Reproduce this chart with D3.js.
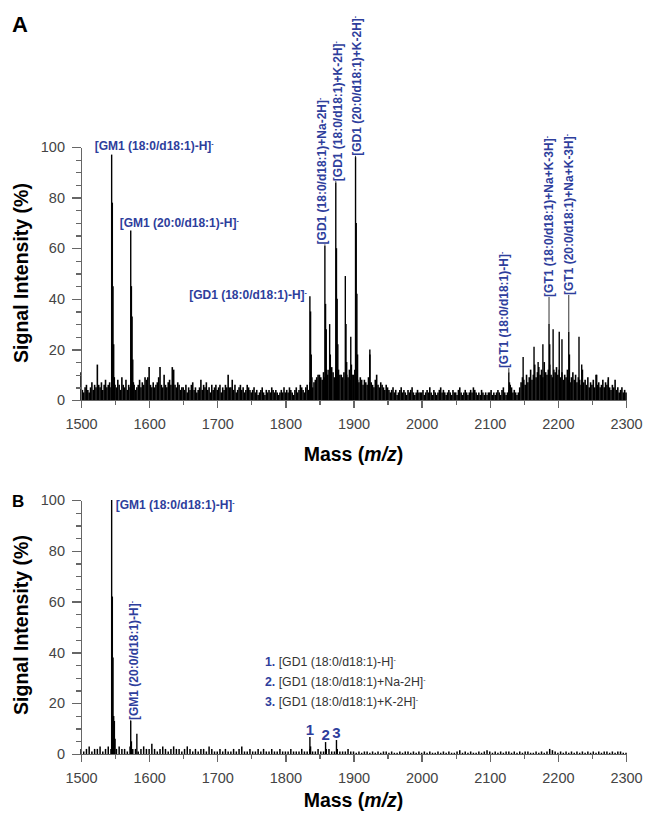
<!DOCTYPE html>
<html lang="en">
<head>
<meta charset="utf-8">
<title>Ganglioside MALDI spectra</title>
<style>
body { margin: 0; background: #fff; }
svg { display: block; font-family: "Liberation Sans", Arial, sans-serif; }
.axis path, .axis line { stroke: #666; stroke-width: 1.3; shape-rendering: crispEdges; }
.axis text { fill: #444; font-size: 14.5px; }
.note { fill: #2e3e9c; font-weight: bold; font-size: 12px; }
.legend { fill: #333; font-size: 12.3px; }
</style>
</head>
<body>
<div id="chart"></div>
<script src="https://cdn.jsdelivr.net/npm/d3@7"></script>
<script>
// tick values
var massTicks = [1500, 1600, 1700, 1800, 1900, 2000, 2100, 2200, 2300];
var massMinor = [1550, 1650, 1750, 1850, 1950, 2050, 2150, 2250];
var intensityTicks = [0, 20, 40, 60, 80, 100];
var intensityMinor = [5, 10, 15, 25, 30, 35, 45, 50, 55, 65, 70, 75, 85, 90, 95];

// panel A: baseline noise, one reading every 2 m/z from 1500
var noiseStartA = 1500, noiseStepA = 2;
var noiseA = [
  11,4,3,5,6, 4,3,5,7,4, 6,5,14,6,5, 7,4,6,8,5, 6,7,5,6,9,
  6,5,8,6,4, 9,6,5,8,4, 6,5,9,7,6, 4,5,6,8,5, 7,6,9,8,9,
  13,6,5,7,5, 6,7,9,13,6, 5,10,6,5,7, 8,6,13,12,6, 5,7,6,4,5,
  5,4,6,3,5, 4,6,7,4,5, 3,4,5,8,4, 6,5,7,4,5, 3,6,4,5,6,
  4,5,6,3,5, 4,6,5,10,5, 5,8,4,6,3, 4,5,6,4,5, 3,4,6,5,4,
  3,4,5,3,4, 2,3,4,5,3, 2,4,3,4,3, 5,4,3,4,3, 2,3,4,3,5,
  3,4,3,5,4, 3,2,4,5,3, 4,6,5,4,3, 5,6,4,7,6, 5,7,8,9,10,
  10,9,8,11,9, 12,10,12,10,13, 11,9,12,11,12, 10,10,9,11,8, 10,9,12,8,10,
  10,12,9,8,7, 9,8,6,8,7, 6,9,18,7,6, 5,8,10,6,5, 7,6,5,4,6,
  5,4,3,4,5, 3,4,2,3,4, 5,3,4,3,2, 4,3,4,5,3, 2,3,4,3,3,
  3,4,2,3,4, 3,5,3,2,4, 3,2,3,4,5, 3,4,3,2,3, 4,3,2,4,3,
  3,2,4,5,3, 2,3,4,3,2, 3,4,3,5,4, 3,2,3,2,4, 3,2,3,2,3,
  3,4,2,3,2, 3,4,3,2,4, 5,3,2,3,4, 6,5,3,4,3, 2,3,5,7,9,
  8,6,10,7,9, 12,8,10,14,9, 11,13,10,12,9, 15,11,10,12,14, 10,9,12,11,13,
  10,12,9,11,8, 10,9,12,8,7, 9,11,8,10,7, 9,8,6,12,7, 8,6,9,5,7,
  6,8,5,10,6, 7,5,6,8,5, 7,6,9,5,4, 6,5,8,4,5, 3,4,5,3,4,
  3
];

// panel A: resolved peaks
var peakMzA = [1545, 1546, 1547, 1548, 1549, 1573, 1574, 1575, 1576, 1577,
  1836, 1837, 1838, 1839, 1858, 1859, 1860, 1861, 1865, 1866,
  1874, 1875, 1876, 1877, 1888, 1889, 1890, 1896, 1897,
  1903, 1904, 1905, 1906, 1924, 2128, 2129, 2149, 2165, 2171, 2178,
  2187, 2188, 2193, 2202, 2206, 2216, 2217, 2231, 2235, 2257, 2274];
var peakIntA = [97, 78, 45, 22, 9, 67, 45, 33, 16, 7,
  41, 35, 18, 9, 61, 38, 28, 12, 30, 18,
  86, 60, 40, 22, 49, 30, 15, 25, 14,
  96, 70, 42, 18, 20, 11, 7, 17, 21, 15, 22,
  30, 22, 28, 27, 24, 27, 18, 25, 14, 10, 8];

// panel B: baseline noise, one reading every 4 m/z from 1500
var noiseStartB = 1500, noiseStepB = 4;
var noiseB = [
  2,1,2,3,1, 2,2,3,1,2, 3,2,1,2,3, 2,2,1,3,2, 2,1,2,3,2,
  2,4,2,1,2, 3,2,1,2,3, 2,2,1,2,3, 2,1,2,1,2, 2,1,3,2,1,
  1,2,1,2,1, 1,2,1,2,3, 1,1,2,1,1, 2,1,2,1,1, 2,1,1,2,1,
  1,1,2,1,1, 1,2,1,1,2, 1,1,2,1,1, 2,2,1,1,2, 1,1,1,2,1,
  1,0.5,1,0.5,1, 1,0.5,1,0.5,1, 0.5,1,1,0.5,1, 0.5,0.5,1,0.5,1, 1,0.5,1,0.5,1,
  0.5,1,0.5,1,0.5, 0.5,1,0.5,1,0.5, 1,0.5,0.5,1,1.5, 0.5,1,0.5,1,0.5, 0.5,1,0.5,1,1.5,
  1,0.5,1,0.5,1, 0.5,1,1,0.5,1, 0.5,1,0.5,1,1, 0.5,0.5,1,0.5,1, 0.5,1,2,1.5,1,
  0.5,1,0.5,1,0.5, 1,0.5,1,0.5,1, 0.5,1,0.5,1,0.5, 1,0.5,1,1,0.5, 1,0.5,1,1,0.5,
  0.5
];

var peakMzB = [1545, 1546, 1547, 1548, 1549, 1550, 1573, 1574, 1582, 1836, 1837, 1859, 1875, 1876];
var peakIntB = [100, 62, 38, 15, 13, 6, 13, 5, 8, 6.7, 3, 4.7, 5.5, 2];

// annotation texts
var labelsA = ["[GM1 (18:0/d18:1)-H]", "[GM1 (20:0/d18:1)-H]", "[GD1 (18:0/d18:1)-H]",
  "[GD1 (18:0/d18:1)+Na-2H]", "[GD1 (18:0/d18:1)+K-2H]", "[GD1 (20:0/d18:1)+K-2H]",
  "[GT1 (18:0/d18:1)-H]", "[GT1 (18:0/d18:1)+Na+K-3H]", "[GT1 (20:0/d18:1)+Na+K-3H]"];
var labelsB = ["[GM1 (18:0/d18:1)-H]", "[GM1 (20:0/d18:1)-H]"];
var legendB = ["[GD1 (18:0/d18:1)-H]", "[GD1 (18:0/d18:1)+Na-2H]", "[GD1 (18:0/d18:1)+K-2H]"];
var numberedMzB = [1836, 1859, 1875];

var W = 645, H = 815;
var svg = d3.select("#chart").append("svg").attr("width", W).attr("height", H);

var x = d3.scaleLinear().domain([1500, 2300]).range([81, 626]);

function noiseData(start, step, noise) {
  return noise.map(function(v, i) { return { mz: start + i * step, v: v }; });
}
function peakData(mzs, ints) {
  return mzs.map(function(m, i) { return { mz: m, v: ints[i] }; });
}

function sticks(g, y, data, width) {
  g.append("g").selectAll("line").data(data).enter().append("line")
      .attr("x1", function(d) { return x(d.mz); })
      .attr("x2", function(d) { return x(d.mz); })
      .attr("y1", y(0))
      .attr("y2", function(d) { return y(d.v); })
      .attr("stroke", "#000")
      .attr("stroke-width", width);
}

function drawPanel(y, noise, peaks, noiseWidth, tag, tagY, tagSize, titleY, ylabY) {
  var g = svg.append("g");

  sticks(g, y, noise, noiseWidth);
  sticks(g, y, peaks, 1.4);

  // minor ticks first, then main axes
  g.append("g").attr("class", "axis")
      .attr("transform", "translate(0," + y(0) + ")")
      .call(d3.axisBottom(x).tickValues(massMinor).tickSize(5).tickSizeOuter(0).tickFormat(""));
  g.append("g").attr("class", "axis")
      .attr("transform", "translate(0," + y(0) + ")")
      .call(d3.axisBottom(x).tickValues(massTicks).tickSize(8).tickSizeOuter(0).tickPadding(11).tickFormat(d3.format("d")));
  g.append("g").attr("class", "axis")
      .attr("transform", "translate(" + x(1500) + ",0)")
      .call(d3.axisLeft(y).tickValues(intensityMinor).tickSize(5).tickSizeOuter(0).tickFormat(""));
  g.append("g").attr("class", "axis")
      .attr("transform", "translate(" + x(1500) + ",0)")
      .call(d3.axisLeft(y).tickValues(intensityTicks).tickSize(9).tickSizeOuter(0).tickPadding(7));

  var title = g.append("text")
      .attr("x", (x(1500) + x(2300)) / 2)
      .attr("y", titleY)
      .attr("text-anchor", "middle")
      .style("font-weight", "bold").style("font-size", "19.5px");
  title.append("tspan").text("Mass (");
  title.append("tspan").style("font-style", "italic").text("m/z");
  title.append("tspan").text(")");

  g.append("text")
      .attr("transform", "translate(28," + ylabY + ") rotate(-90)")
      .attr("text-anchor", "middle")
      .style("font-weight", "bold").style("font-size", "19.5px")
      .text("Signal Intensity (%)");

  g.append("text")
      .attr("x", 12).attr("y", tagY)
      .style("font-weight", "bold").style("font-size", tagSize)
      .text(tag);
  return g;
}

// annotation with superscript minus
function note(g, y, text, mz, at, rot, dx, anchor, leaderFrom) {
  var px = x(mz) + dx, py = y(at);
  if (leaderFrom != null && leaderFrom < at) {
    g.append("line")
        .attr("x1", x(mz)).attr("x2", x(mz))
        .attr("y1", y(leaderFrom)).attr("y2", py)
        .attr("stroke", "#000").attr("stroke-width", 0.8);
  }
  var t = g.append("text").attr("class", "note").attr("text-anchor", anchor);
  if (rot) {
    t.attr("transform", "translate(" + px + "," + py + ") rotate(-90)").attr("dy", "0.35em");
  } else {
    t.attr("x", px).attr("y", py);
  }
  t.append("tspan").text(text);
  t.append("tspan").attr("dy", -4).style("font-size", "7px").text("-");
}

// ---- panel A
var yA = d3.scaleLinear().domain([0, 100]).range([400, 147]);
var gA = drawPanel(yA, noiseData(noiseStartA, noiseStepA, noiseA), peakData(peakMzA, peakIntA), 1.6, "A", 32, "22px", 461, 273);

note(gA, yA, labelsA[0], 1545, 98.8, false, -17, "start", null);
note(gA, yA, labelsA[1], 1573, 68.4, false, -11, "start", null);
note(gA, yA, labelsA[2], 1836, 39.9, false, -3, "end", null);
note(gA, yA, labelsA[3], 1858, 61.5, true, -3, "start", 61);
note(gA, yA, labelsA[4], 1874, 86.5, true, 2, "start", 86);
note(gA, yA, labelsA[5], 1903, 96.5, true, 1, "start", 96);
note(gA, yA, labelsA[6], 2128, 12.6, true, -5, "start", 11);
note(gA, yA, labelsA[7], 2187, 40.7, true, 0, "start", 30);
note(gA, yA, labelsA[8], 2216, 41.5, true, 0, "start", 27);

// ---- panel B
var yB = d3.scaleLinear().domain([0, 100]).range([754, 500]);
var gB = drawPanel(yB, noiseData(noiseStartB, noiseStepB, noiseB), peakData(peakMzB, peakIntB), 1.5, "B", 507, "17px", 807, 625);

note(gB, yB, labelsB[0], 1545, 96.5, false, 4, "start", null);
note(gB, yB, labelsB[1], 1573, 13.4, true, 3, "start", 13);

gB.selectAll(".num").data(numberedMzB).enter().append("text")
    .attr("class", "note")
    .attr("text-anchor", "middle")
    .attr("x", function(d) { return x(d); })
    .attr("y", function(d) { return yB(peakIntB[peakMzB.indexOf(d)]) - 2; })
    .style("font-size", "15px")
    .text(function(d, i) { return i + 1; });

var lg = gB.append("g").attr("transform", "translate(265,666)");
legendB.forEach(function(s, i) {
  var t = lg.append("text").attr("class", "legend").attr("y", i * 20);
  t.append("tspan").attr("class", "note").style("font-size", "12.3px").text((i + 1) + ". ");
  t.append("tspan").text(s);
  t.append("tspan").attr("dy", -4).style("font-size", "7px").text("-");
});
</script>
</body>
</html>
